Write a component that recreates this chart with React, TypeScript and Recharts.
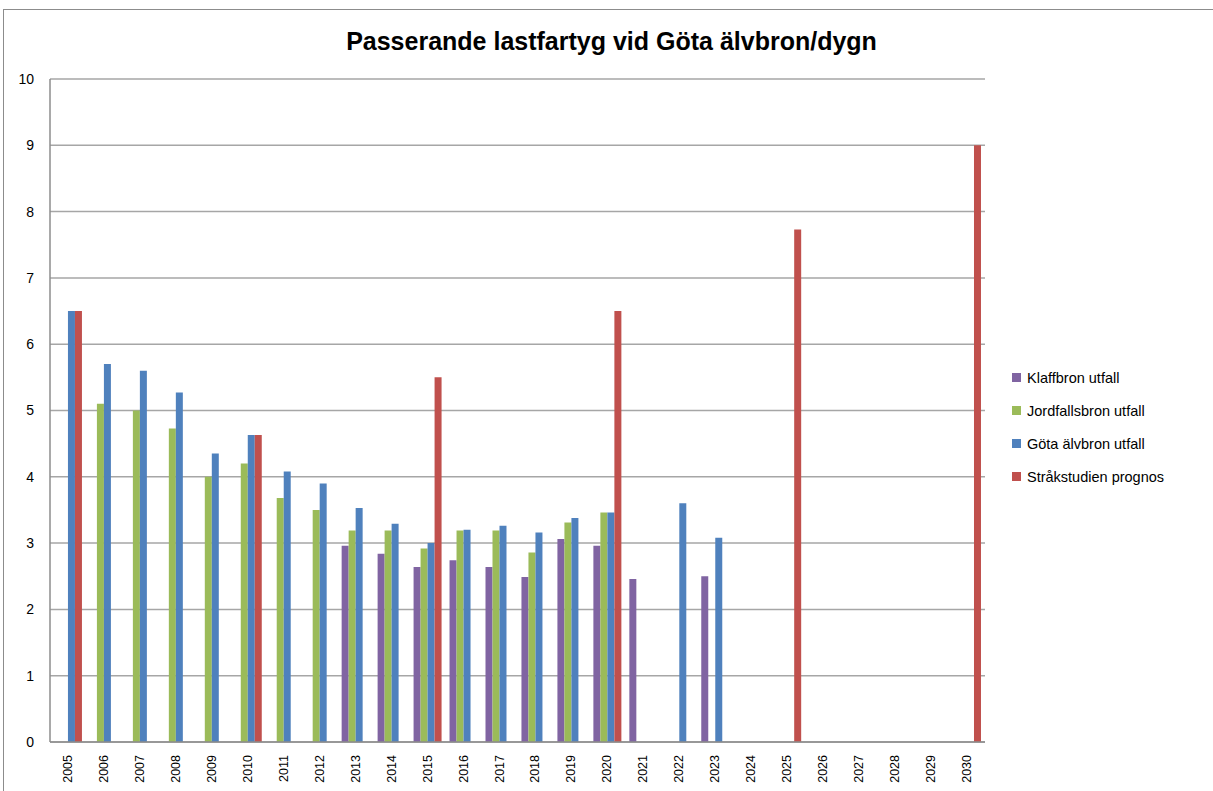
import { BarChart, Bar, XAxis, YAxis, CartesianGrid } from 'recharts';

const years = [
  '2005', '2006', '2007', '2008', '2009', '2010', '2011', '2012', '2013',
  '2014', '2015', '2016', '2017', '2018', '2019', '2020', '2021', '2022',
  '2023', '2024', '2025', '2026', '2027', '2028', '2029', '2030',
];

const klaffbron = [
  null, null, null, null, null, null, null, null, 2.96,
  2.84, 2.64, 2.74, 2.64, 2.49, 3.06, 2.96, 2.46, null,
  2.5, null, null, null, null, null, null, null,
];

const jordfallsbron = [
  null, 5.1, 5.0, 4.73, 4.0, 4.2, 3.68, 3.5, 3.19,
  3.19, 2.92, 3.19, 3.19, 2.86, 3.31, 3.46, null, null,
  null, null, null, null, null, null, null, null,
];

const gotaAlvbron = [
  6.5, 5.7, 5.6, 5.27, 4.35, 4.63, 4.08, 3.9, 3.53,
  3.29, 3.0, 3.2, 3.26, 3.16, 3.38, 3.46, null, 3.6,
  3.08, null, null, null, null, null, null, null,
];

const prognos = [
  6.5, null, null, null, null, 4.63, null, null, null,
  null, 5.5, null, null, null, null, 6.5, null, null,
  null, null, 7.73, null, null, null, null, 9.0,
];

const yTicks = [0, 1, 2, 3, 4, 5, 6, 7, 8, 9, 10];

const seriesInfo = [
  { key: 'klaff', name: 'Klaffbron utfall', color: '#8064A2' },
  { key: 'jord', name: 'Jordfallsbron utfall', color: '#9BBB59' },
  { key: 'gota', name: 'Göta älvbron utfall', color: '#4F81BD' },
  { key: 'prognos', name: 'Stråkstudien prognos', color: '#C0504D' },
];

const chartData = years.map((year, i) => ({
  year,
  klaff: klaffbron[i],
  jord: jordfallsbron[i],
  gota: gotaAlvbron[i],
  prognos: prognos[i],
}));

const font = '"Liberation Sans", Arial, sans-serif';

function YearTick({ x, y, payload }: any) {
  return (
    <text
      x={x}
      y={y + 5}
      transform={`rotate(-90, ${x}, ${y + 5})`}
      textAnchor="end"
      dominantBaseline="central"
      fontSize={12.5}
      fontFamily={font}
      fill="#000"
    >
      {payload.value}
    </text>
  );
}

export default function App() {
  return (
    <div style={{ position: 'relative', width: 1213, height: 791, background: '#fff' }}>
      <style>{'body{margin:0}'}</style>
      <div
        style={{
          position: 'absolute',
          left: 3,
          top: 9,
          right: 0,
          bottom: 0,
          borderTop: '1.5px solid #8c8c8c',
          borderLeft: '1.5px solid #8c8c8c',
        }}
      />
      <div
        style={{
          position: 'absolute',
          top: 27,
          left: 0,
          width: 1223,
          textAlign: 'center',
          fontFamily: font,
          fontWeight: 'bold',
          fontSize: 25,
          color: '#000',
        }}
      >
        Passerande lastfartyg vid Göta älvbron/dygn
      </div>
      <BarChart
        width={1213}
        height={791}
        data={chartData}
        margin={{ top: 79, right: 228, left: 10, bottom: 4 }}
        barCategoryGap="11%"
        barGap={0}
        style={{ position: 'absolute', top: 0, left: 0 }}
      >
        <CartesianGrid vertical={false} stroke="#a6a6a6" strokeWidth={1.5} />
        <XAxis
          dataKey="year"
          interval={0}
          height={45}
          tick={<YearTick />}
          tickLine={false}
          axisLine={{ stroke: '#8c8c8c', strokeWidth: 1.5 }}
        />
        <YAxis
          width={40}
          domain={[0, 10]}
          ticks={yTicks}
          interval={0}
          tickLine={false}
          tickSize={0}
          tickMargin={16}
          axisLine={{ stroke: '#8c8c8c', strokeWidth: 1.5 }}
          tick={{ fill: '#000', fontSize: 14, fontFamily: font }}
        />
        {seriesInfo.map((s) => (
          <Bar key={s.key} dataKey={s.key} name={s.name} fill={s.color} isAnimationActive={false} />
        ))}
      </BarChart>
      <div
        style={{
          position: 'absolute',
          left: 1012,
          top: 361,
          fontFamily: font,
          fontSize: 14.5,
          color: '#000',
        }}
      >
        {seriesInfo.map((s) => (
          <div key={s.key} style={{ display: 'flex', alignItems: 'center', height: 33 }}>
            <span
              style={{
                display: 'inline-block',
                width: 9,
                height: 9,
                background: s.color,
                marginRight: 6,
              }}
            />
            <span>{s.name}</span>
          </div>
        ))}
      </div>
    </div>
  );
}
